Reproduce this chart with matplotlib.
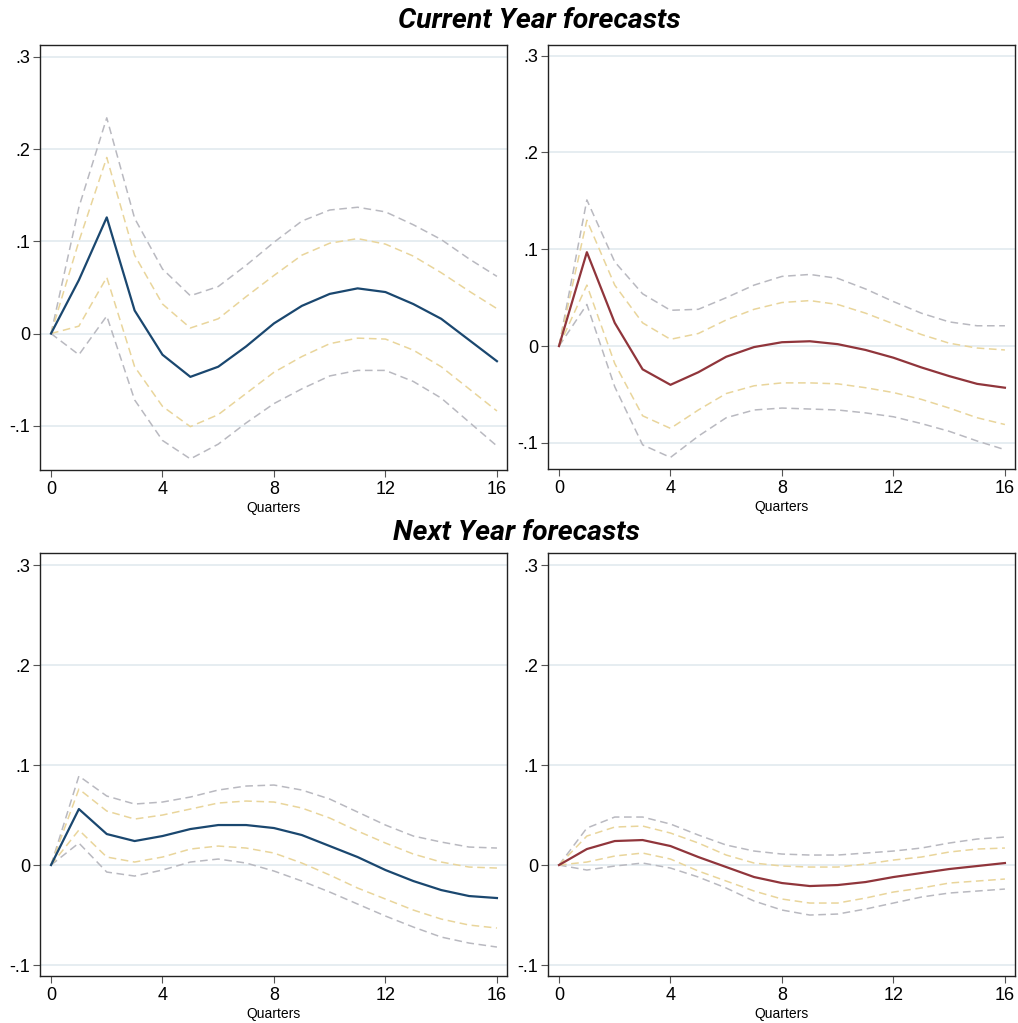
import numpy as np
import matplotlib.pyplot as plt

quarters = list(range(17))

# Current Year, left panel (blue)
cy_l_main = [0, 0.058, 0.126, 0.025, -0.023, -0.047, -0.036, -0.014, 0.011, 0.030, 0.043, 0.049, 0.045, 0.032, 0.016, -0.007, -0.030]
cy_l_up90 = [0, 0.137, 0.234, 0.125, 0.070, 0.041, 0.051, 0.074, 0.099, 0.122, 0.134, 0.137, 0.132, 0.118, 0.102, 0.081, 0.062]
cy_l_up68 = [0, 0.100, 0.191, 0.085, 0.032, 0.006, 0.016, 0.040, 0.063, 0.085, 0.098, 0.103, 0.097, 0.084, 0.066, 0.046, 0.027]
cy_l_lo68 = [0, 0.008, 0.061, -0.036, -0.079, -0.101, -0.088, -0.065, -0.042, -0.025, -0.011, -0.005, -0.006, -0.018, -0.036, -0.060, -0.084]
cy_l_lo90 = [0, -0.023, 0.019, -0.072, -0.116, -0.136, -0.120, -0.097, -0.076, -0.060, -0.046, -0.040, -0.040, -0.052, -0.070, -0.096, -0.122]

# Current Year, right panel (red)
cy_r_main = [0, 0.097, 0.024, -0.024, -0.040, -0.027, -0.011, -0.001, 0.004, 0.005, 0.002, -0.004, -0.012, -0.022, -0.031, -0.039, -0.043]
cy_r_up90 = [0, 0.151, 0.087, 0.054, 0.037, 0.038, 0.050, 0.063, 0.072, 0.074, 0.070, 0.059, 0.046, 0.034, 0.025, 0.021, 0.021]
cy_r_up68 = [0, 0.130, 0.063, 0.024, 0.007, 0.013, 0.027, 0.038, 0.045, 0.047, 0.043, 0.034, 0.023, 0.012, 0.003, -0.002, -0.004]
cy_r_lo68 = [0, 0.063, -0.018, -0.072, -0.085, -0.066, -0.049, -0.041, -0.038, -0.038, -0.039, -0.043, -0.048, -0.055, -0.064, -0.074, -0.081]
cy_r_lo90 = [0, 0.043, -0.042, -0.102, -0.115, -0.093, -0.074, -0.066, -0.064, -0.065, -0.066, -0.069, -0.073, -0.080, -0.088, -0.098, -0.107]

# Next Year, left panel (blue)
ny_l_main = [0, 0.056, 0.031, 0.024, 0.029, 0.036, 0.040, 0.040, 0.037, 0.030, 0.019, 0.008, -0.005, -0.016, -0.025, -0.031, -0.033]
ny_l_up90 = [0, 0.089, 0.069, 0.061, 0.063, 0.068, 0.075, 0.079, 0.080, 0.075, 0.066, 0.053, 0.040, 0.029, 0.023, 0.018, 0.017]
ny_l_up68 = [0, 0.076, 0.054, 0.046, 0.050, 0.056, 0.062, 0.064, 0.063, 0.057, 0.047, 0.034, 0.022, 0.011, 0.003, -0.002, -0.003]
ny_l_lo68 = [0, 0.035, 0.008, 0.003, 0.008, 0.016, 0.019, 0.017, 0.012, 0.002, -0.010, -0.023, -0.034, -0.045, -0.054, -0.060, -0.063]
ny_l_lo90 = [0, 0.022, -0.007, -0.011, -0.005, 0.003, 0.006, 0.002, -0.006, -0.016, -0.027, -0.039, -0.051, -0.062, -0.072, -0.078, -0.082]

# Next Year, right panel (red)
ny_r_main = [0, 0.016, 0.024, 0.025, 0.019, 0.008, -0.002, -0.012, -0.018, -0.021, -0.020, -0.017, -0.012, -0.008, -0.004, -0.001, 0.002]
ny_r_up90 = [0, 0.037, 0.048, 0.048, 0.041, 0.030, 0.020, 0.014, 0.011, 0.010, 0.010, 0.012, 0.014, 0.017, 0.022, 0.026, 0.028]
ny_r_up68 = [0, 0.029, 0.038, 0.039, 0.032, 0.022, 0.010, 0.002, -0.001, -0.002, -0.002, 0.001, 0.005, 0.008, 0.013, 0.016, 0.017]
ny_r_lo68 = [0, 0.003, 0.009, 0.012, 0.006, -0.006, -0.016, -0.026, -0.034, -0.038, -0.038, -0.033, -0.027, -0.023, -0.018, -0.016, -0.014]
ny_r_lo90 = [0, -0.005, -0.001, 0.002, -0.003, -0.012, -0.023, -0.036, -0.045, -0.050, -0.049, -0.044, -0.038, -0.032, -0.028, -0.026, -0.024]

yticks = [-0.1, 0, 0.1, 0.2, 0.3]
ytick_labels = ['-.1', '0', '.1', '.2', '.3']
xticks = [0, 4, 8, 12, 16]

blue = '#1a476f'
red = '#90353b'
gray = '#b9b9c0'
sand = '#e9d59b'

plt.rcParams['font.family'] = ['Liberation Sans', 'DejaVu Sans']

fig = plt.figure(figsize=(10.18, 10.23), dpi=100)

panels = [
    ([0.0393, 0.5406, 0.4587, 0.4154], cy_l_main, cy_l_up90, cy_l_up68, cy_l_lo68, cy_l_lo90, blue, (-0.148, 0.313)),
    ([0.5383, 0.5415, 0.4587, 0.4145], cy_r_main, cy_r_up90, cy_r_up68, cy_r_lo68, cy_r_lo90, red, (-0.127, 0.311)),
    ([0.0393, 0.0459, 0.4587, 0.4135], ny_l_main, ny_l_up90, ny_l_up68, ny_l_lo68, ny_l_lo90, blue, (-0.111, 0.312)),
    ([0.5383, 0.0459, 0.4587, 0.4135], ny_r_main, ny_r_up90, ny_r_up68, ny_r_lo68, ny_r_lo90, red, (-0.111, 0.312)),
]

for pos, main, up90, up68, lo68, lo90, col, ylim in panels:
    ax = fig.add_axes(pos)
    for yt in yticks:
        ax.axhline(yt, color='#e4ecf0', linewidth=1.3, zorder=0)
    ax.plot(quarters, up90, color=gray, linewidth=1.1, dashes=(5, 3))
    ax.plot(quarters, lo90, color=gray, linewidth=1.1, dashes=(5, 3))
    ax.plot(quarters, up68, color=sand, linewidth=1.1, dashes=(5, 3))
    ax.plot(quarters, lo68, color=sand, linewidth=1.1, dashes=(5, 3))
    ax.plot(quarters, main, color=col, linewidth=1.6)
    ax.set_xlim(-0.395, 16.36)
    ax.set_ylim(*ylim)
    ax.set_xticks(xticks)
    ax.set_xticklabels([str(x) for x in xticks])
    ax.set_yticks(yticks)
    ax.set_yticklabels(ytick_labels)
    ax.tick_params(axis='both', labelsize=13, length=5, width=0.8, color='#555555', pad=2)
    ax.tick_params(axis='x', pad=3)
    ax.set_xlabel('Quarters', fontsize=10, labelpad=2)
    for sp in ax.spines.values():
        sp.set_color('#222222')
        sp.set_linewidth(1.0)

fig.text(0.530, 1 - 21 / 1023, 'Current Year forecasts', ha='center', va='center',
         fontsize=20.5, fontweight='bold', fontstyle='italic', family=['Roboto', 'DejaVu Sans'])
fig.text(0.507, 1 - 532 / 1023, 'Next Year forecasts', ha='center', va='center',
         fontsize=20.5, fontweight='bold', fontstyle='italic', family=['Roboto', 'DejaVu Sans'])

fig.savefig('out.png', dpi=100)
